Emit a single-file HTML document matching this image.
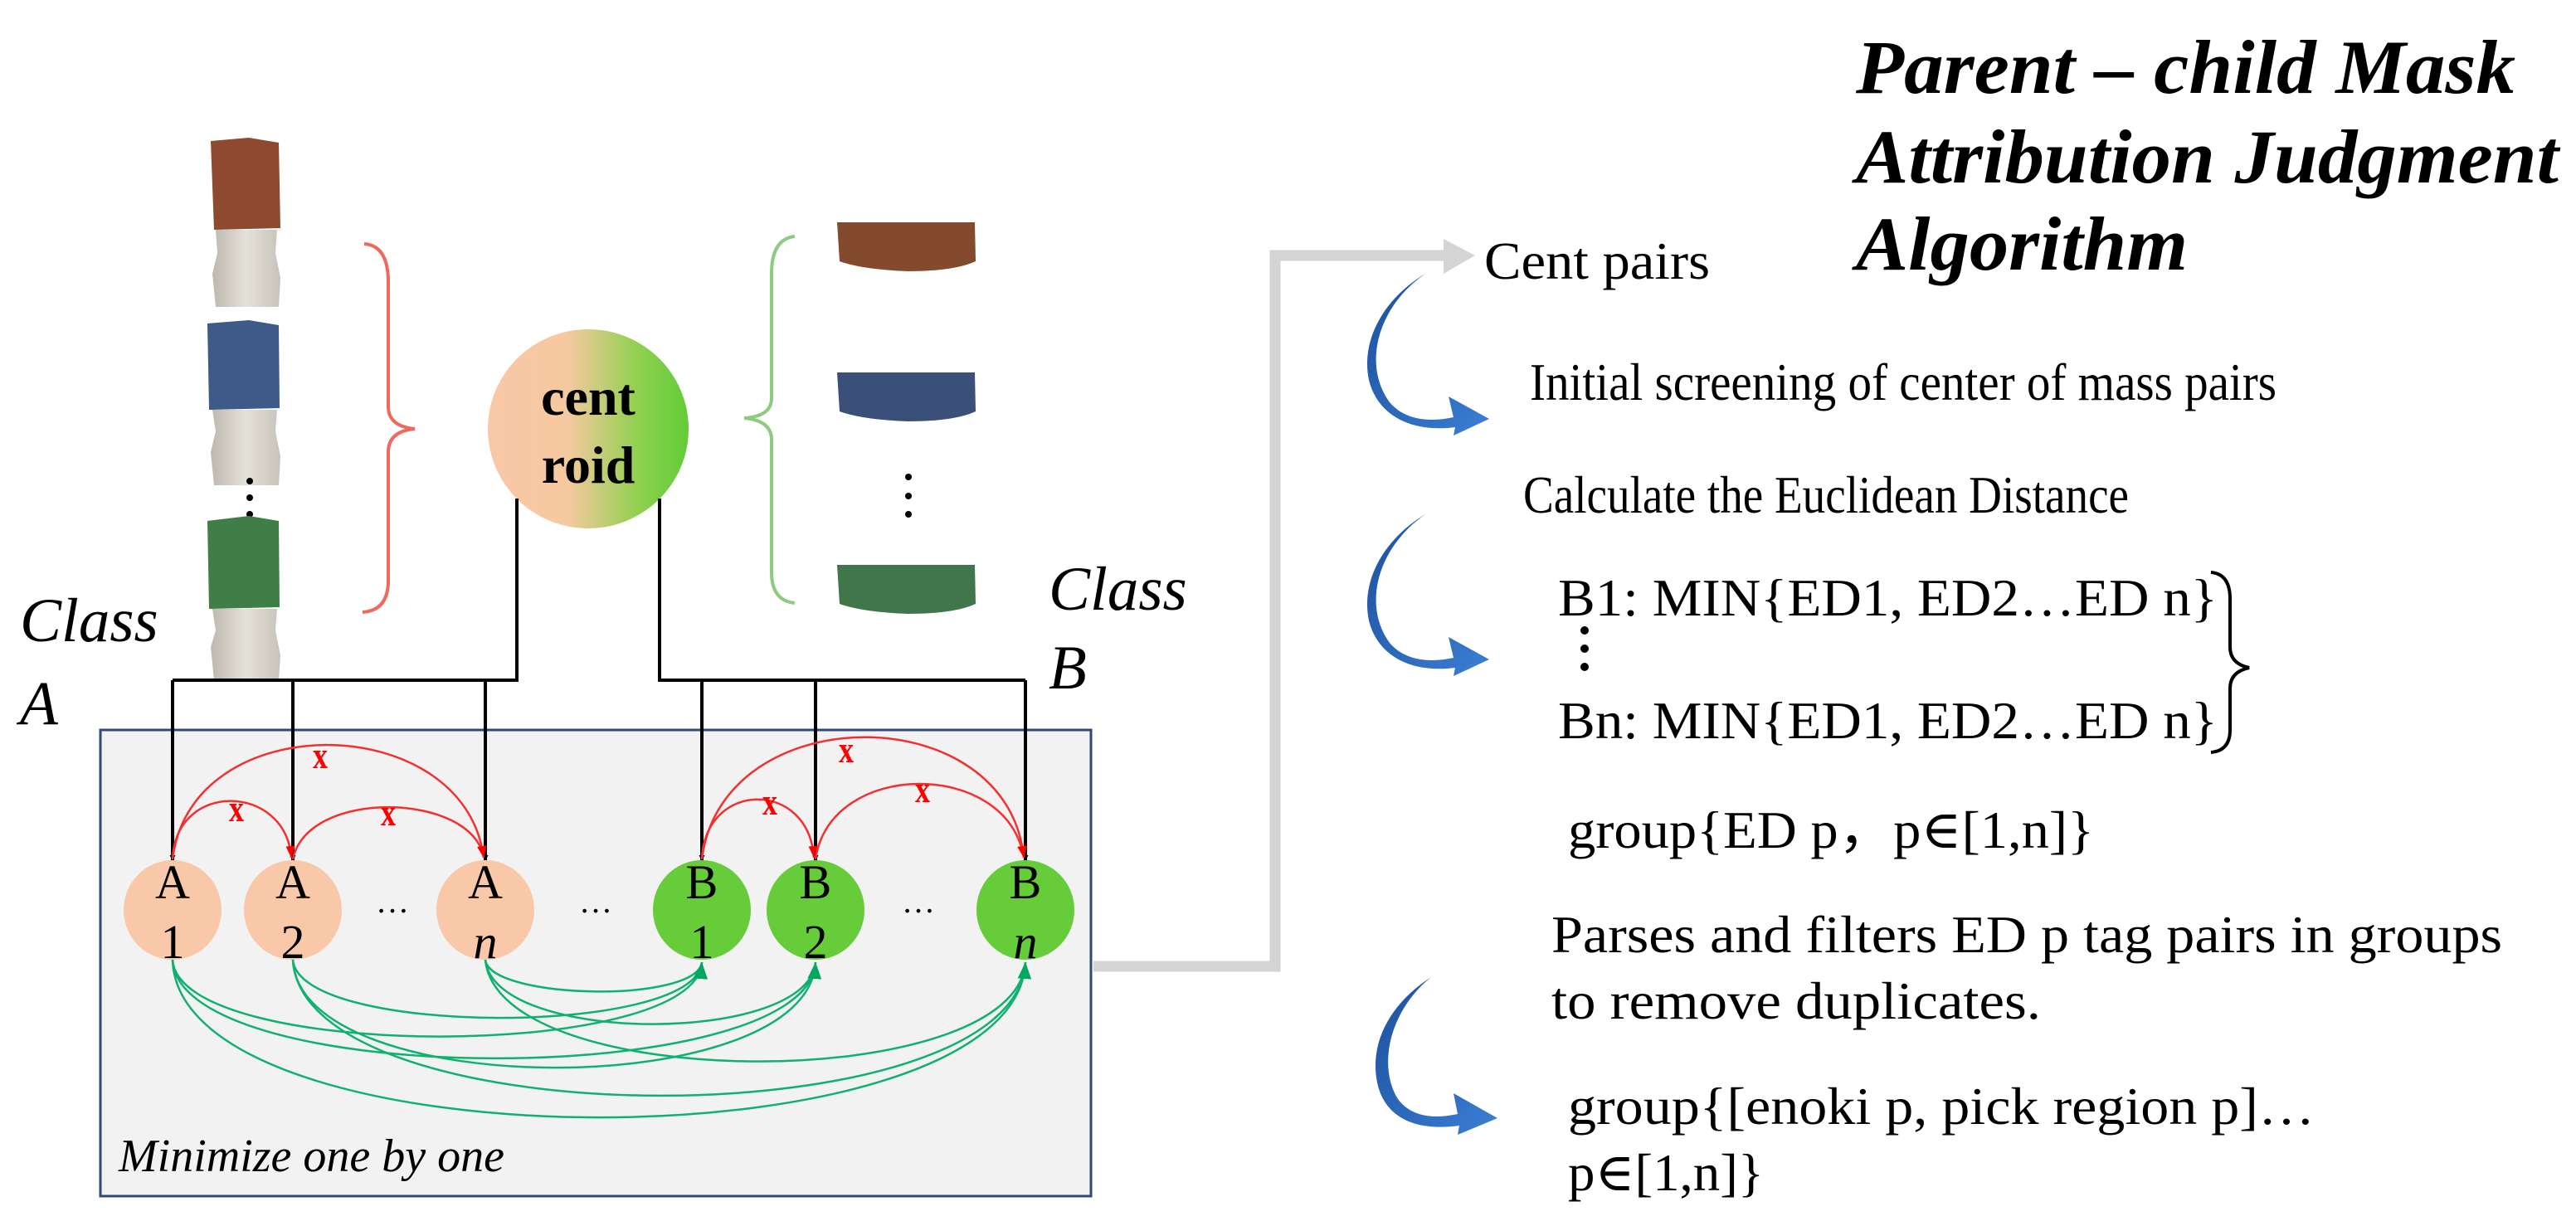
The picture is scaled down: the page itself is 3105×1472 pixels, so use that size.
<!DOCTYPE html>
<html><head><meta charset="utf-8"><style>
html,body{margin:0;padding:0;background:#fff;}
svg{display:block;}
text{font-family:"Liberation Serif","DejaVu Serif",serif;}
</style></head><body>
<svg width="3105" height="1472" viewBox="0 0 3105 1472" xmlns="http://www.w3.org/2000/svg">
<defs>
<linearGradient id="cg" x1="0" y1="0" x2="1" y2="0">
<stop offset="0" stop-color="#F9C8A8"/><stop offset="0.4" stop-color="#F5C9A0"/><stop offset="0.75" stop-color="#8FD04E"/><stop offset="1" stop-color="#62CC38"/></linearGradient>
<linearGradient id="stem" x1="0" y1="0" x2="1" y2="0">
<stop offset="0" stop-color="#bdb8ae"/><stop offset="0.5" stop-color="#e4e1da"/><stop offset="1" stop-color="#c8c3b9"/></linearGradient>
<linearGradient id="blu" x1="0" y1="0" x2="1" y2="1">
<stop offset="0" stop-color="#1C4F9C"/><stop offset="1" stop-color="#3B7FD4"/></linearGradient>
<marker id="ab" viewBox="0 0 10 10" refX="10" refY="5" markerWidth="7" markerHeight="7" orient="auto" markerUnits="userSpaceOnUse">
<path d="M0,0 L10,5 L0,10 z" fill="#000"/></marker>
<marker id="ar" viewBox="0 0 10 10" refX="10" refY="5" markerWidth="14" markerHeight="14" orient="auto" markerUnits="userSpaceOnUse">
<path d="M0,1 L10,5 L0,9 z" fill="#f00"/></marker>
<marker id="ag" viewBox="0 0 10 10" refX="10" refY="5" markerWidth="20" markerHeight="20" orient="auto" markerUnits="userSpaceOnUse">
<path d="M0,1 L10,5 L0,9 z" fill="#00A860"/></marker>
</defs>

<!-- Title -->
<g font-weight="bold" font-style="italic" font-size="92" fill="#000">
<text x="2237" y="112" textLength="795" lengthAdjust="spacingAndGlyphs">Parent – child Mask</text>
<text x="2237" y="220" textLength="847" lengthAdjust="spacingAndGlyphs">Attribution Judgment</text>
<text x="2237" y="325" textLength="400" lengthAdjust="spacingAndGlyphs">Algorithm</text>
</g>

<!-- Left brushes -->
<g>
<path d="M254,170 L300,166 L336,172 L338,275 L258,277 Z" fill="#8E4A2E"/>
<path d="M260,277 L334,277 L332,305 L338,335 L336,370 L260,370 L256,330 L262,305 Z" fill="url(#stem)"/>
<path d="M250,390 L300,386 L336,392 L337,492 L252,494 Z" fill="#3E5A88"/>
<path d="M256,494 L334,494 L332,520 L338,550 L336,585 L258,585 L254,545 L260,520 Z" fill="url(#stem)"/>
<circle cx="301" cy="580" r="4" fill="#000"/><circle cx="301" cy="600" r="4" fill="#000"/><circle cx="301" cy="620" r="4" fill="#000"/>
<path d="M250,628 L300,622 L336,628 L337,732 L252,734 Z" fill="#3F7E47"/>
<path d="M256,734 L334,734 L332,760 L338,790 L336,820 L258,820 L254,780 L260,760 Z" fill="url(#stem)"/>
</g>
<!-- red brace -->
<path d="M439,294 Q468,296 468,340 L468,490 Q468,514 500,517 Q468,520 468,545 L468,700 Q468,736 437,738" fill="none" stroke="#EE6A5E" stroke-width="4"/>

<!-- centroid -->
<ellipse cx="709" cy="517" rx="121" ry="120" fill="url(#cg)"/>
<g font-weight="bold" font-size="64" text-anchor="middle" fill="#000">
<text x="709" y="500">cent</text><text x="709" y="582">roid</text></g>

<!-- green brace -->
<path d="M958,285 Q930,288 930,330 L930,480 Q930,502 897,504 Q930,507 930,530 L930,690 Q930,724 958,727" fill="none" stroke="#8CCB80" stroke-width="4"/>
<!-- right masks -->
<path d="M1009,268 L1175,268 L1176,315 Q1150,327 1095,327 Q1040,325 1012,315 Z" fill="#834A2D"/>
<path d="M1009,449 L1175,449 L1176,496 Q1150,508 1095,508 Q1040,506 1012,496 Z" fill="#3A5078"/>
<circle cx="1095" cy="575" r="4" fill="#000"/><circle cx="1095" cy="598" r="4" fill="#000"/><circle cx="1095" cy="620" r="4" fill="#000"/>
<path d="M1009,681 L1175,681 L1176,728 Q1150,740 1095,740 Q1040,738 1012,728 Z" fill="#41754A"/>

<!-- class labels -->
<g font-style="italic" font-size="75" fill="#000">
<text x="24" y="773">Class</text><text x="24" y="873">A</text>
<text x="1264" y="735">Class</text><text x="1264" y="830">B</text>
</g>

<!-- box -->
<rect x="121" y="880" width="1194" height="562" fill="#F2F2F2" stroke="#2E4A78" stroke-width="3"/>
<text x="143" y="1412" font-style="italic" font-size="56" fill="#000">Minimize one by one</text>

<!-- black tree lines -->
<g fill="none" stroke="#000" stroke-width="4">
<path d="M623,601 L623,820 L208,820"/>
<path d="M795,601 L795,820 L1236,820"/>
<path d="M208,820 L208,1038" marker-end="url(#ab)"/>
<path d="M353,820 L353,1038" marker-end="url(#ab)"/>
<path d="M585,820 L585,1038" marker-end="url(#ab)"/>
<path d="M846,820 L846,1038" marker-end="url(#ab)"/>
<path d="M983,820 L983,1038" marker-end="url(#ab)"/>
<path d="M1236,820 L1236,1038" marker-end="url(#ab)"/>
</g>

<!-- red arcs -->
<g fill="none" stroke="#F23030" stroke-width="2.5">
<path d="M208,1036 C212,940 345,945 351,1034" marker-end="url(#ar)"/>
<path d="M208,1036 C230,850 560,855 583,1034" marker-end="url(#ar)"/>
<path d="M353,1036 C370,950 570,955 583,1034" marker-end="url(#ar)"/>
<path d="M846,1036 C850,940 975,940 981,1034" marker-end="url(#ar)"/>
<path d="M846,1036 C870,840 1215,840 1234,1034" marker-end="url(#ar)"/>
<path d="M983,1036 C1000,915 1215,915 1234,1034" marker-end="url(#ar)"/>
</g>
<g fill="#F00" font-size="46" font-weight="bold" text-anchor="middle" font-family="Liberation Sans, sans-serif">
<text x="285" y="990" textLength="18" lengthAdjust="spacingAndGlyphs">x</text>
<text x="386" y="926" textLength="18" lengthAdjust="spacingAndGlyphs">x</text>
<text x="468" y="995" textLength="18" lengthAdjust="spacingAndGlyphs">x</text>
<text x="928" y="982" textLength="18" lengthAdjust="spacingAndGlyphs">x</text>
<text x="1020" y="919" textLength="18" lengthAdjust="spacingAndGlyphs">x</text>
<text x="1112" y="967" textLength="18" lengthAdjust="spacingAndGlyphs">x</text>
</g>

<!-- nodes -->
<g>
<ellipse cx="208" cy="1097" rx="59" ry="60" fill="#F9C8A8"/>
<ellipse cx="353" cy="1097" rx="59" ry="60" fill="#F9C8A8"/>
<ellipse cx="585" cy="1097" rx="59" ry="60" fill="#F9C8A8"/>
<ellipse cx="846" cy="1097" rx="59" ry="60" fill="#66CC3A"/>
<ellipse cx="983" cy="1097" rx="59" ry="60" fill="#66CC3A"/>
<ellipse cx="1236" cy="1097" rx="59" ry="60" fill="#66CC3A"/>
</g>
<g font-size="58" text-anchor="middle" fill="#000">
<text x="208" y="1083">A</text><text x="208" y="1155">1</text>
<text x="353" y="1083">A</text><text x="353" y="1155">2</text>
<text x="585" y="1083">A</text><text x="585" y="1155" font-style="italic">n</text>
<text x="846" y="1083">B</text><text x="846" y="1155">1</text>
<text x="983" y="1083">B</text><text x="983" y="1155">2</text>
<text x="1236" y="1083">B</text><text x="1236" y="1155" font-style="italic">n</text>
<text x="473" y="1100" font-size="40">…</text><text x="718" y="1100" font-size="40">…</text><text x="1107" y="1100" font-size="40">…</text>
</g>

<!-- green arcs -->
<g fill="none" stroke="#10B070" stroke-width="2.5">
<path d="M585,1157 C590,1205 840,1210 846,1160" marker-end="url(#ag)"/>
<path d="M353,1157 C360,1250 840,1250 846,1160" marker-end="url(#ag)"/>
<path d="M585,1157 C595,1260 975,1260 983,1160" marker-end="url(#ag)"/>
<path d="M208,1157 C215,1280 840,1280 846,1160" marker-end="url(#ag)"/>
<path d="M585,1157 C600,1320 1225,1320 1236,1160" marker-end="url(#ag)"/>
<path d="M208,1157 C215,1315 975,1315 983,1160" marker-end="url(#ag)"/>
<path d="M353,1157 C360,1330 975,1330 983,1160" marker-end="url(#ag)"/>
<path d="M353,1157 C365,1375 1225,1375 1236,1160" marker-end="url(#ag)"/>
<path d="M208,1157 C215,1410 1225,1410 1236,1160" marker-end="url(#ag)"/>
</g>

<!-- gray connector -->
<path d="M1318,1165 L1537,1165 L1537,308 L1745,308" fill="none" stroke="#D4D4D4" stroke-width="13"/>
<path d="M1740,288 L1778,308 L1740,330 Z" fill="#D4D4D4"/>

<!-- blue curved arrows -->
<g fill="url(#blu)">
<path d="M1718,330 C1660,370 1642,440 1675,485 C1692,505 1720,510 1752,503 L1746,478 L1795,505 L1752,525 L1754,515 C1700,522 1660,500 1650,458 C1640,410 1668,360 1718,330 Z"/>
<path d="M1718,620 C1660,660 1642,730 1675,775 C1692,795 1720,800 1752,793 L1746,768 L1795,795 L1752,815 L1754,805 C1700,812 1660,790 1650,748 C1640,700 1668,650 1718,620 Z"/>
<path d="M1725,1178 C1675,1218 1660,1285 1685,1325 C1700,1345 1725,1350 1757,1343 L1752,1318 L1805,1348 L1757,1368 L1759,1357 C1700,1365 1668,1343 1660,1305 C1650,1255 1678,1208 1725,1178 Z"/>
</g>

<!-- right text -->
<g font-size="64" fill="#000">
<text x="1789" y="336" textLength="272" lengthAdjust="spacingAndGlyphs">Cent pairs</text>
<text x="1844" y="482" textLength="900" lengthAdjust="spacingAndGlyphs">Initial screening of center of mass pairs</text>
<text x="1836" y="618" textLength="730" lengthAdjust="spacingAndGlyphs">Calculate the Euclidean Distance</text>
<text x="1878" y="742" textLength="795" lengthAdjust="spacingAndGlyphs">B1: MIN{ED1, ED2…ED n}</text>
<text x="1878" y="890" textLength="795" lengthAdjust="spacingAndGlyphs">Bn: MIN{ED1, ED2…ED n}</text>
<text x="1890" y="1022" textLength="634" lengthAdjust="spacingAndGlyphs">group{ED p，p∈[1,n]}</text>
<text x="1870" y="1148" textLength="1146" lengthAdjust="spacingAndGlyphs">Parses and filters ED p tag pairs in groups</text>
<text x="1870" y="1228" textLength="590" lengthAdjust="spacingAndGlyphs">to remove duplicates.</text>
<text x="1890" y="1355" textLength="900" lengthAdjust="spacingAndGlyphs">group{[enoki p, pick region p]…</text>
<text x="1890" y="1435" textLength="236" lengthAdjust="spacingAndGlyphs">p∈[1,n]}</text>
</g>
<g fill="#000"><circle cx="1910" cy="760" r="5"/><circle cx="1910" cy="782" r="5"/><circle cx="1910" cy="804" r="5"/></g>
<path d="M2665,690 Q2688,692 2688,722 L2688,780 Q2688,800 2711,805 Q2688,810 2688,830 L2688,880 Q2688,905 2665,907" fill="none" stroke="#000" stroke-width="4"/>
</svg>
</body></html>
